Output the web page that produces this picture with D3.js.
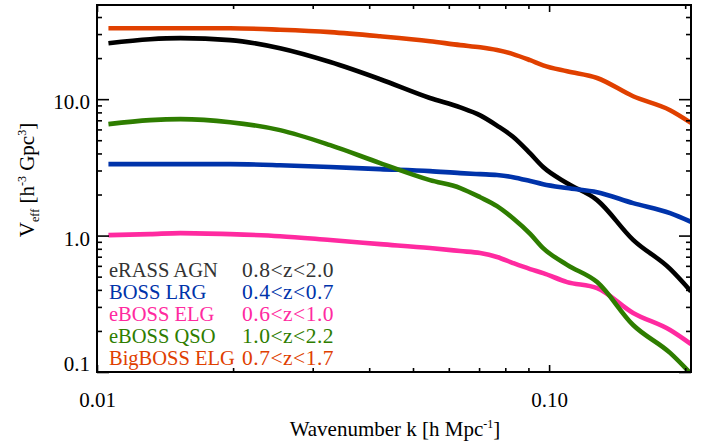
<!DOCTYPE html>
<html>
<head>
<meta charset="utf-8">
<script src="https://cdn.jsdelivr.net/npm/d3@7"></script>
<style>
  html, body { margin: 0; padding: 0; background: #fff; }
  svg { display: block; }
  text { font-family: "Liberation Serif", "DejaVu Serif", serif; fill: #000; }
</style>
</head>
<body>
<svg id="chart" width="710" height="448"></svg>
<script>
// ---- data ----
const kValues = [0.0106, 0.0131, 0.0153, 0.0197, 0.0254, 0.0328, 0.0423, 0.0545, 0.0636, 0.0704,
                 0.0767, 0.0832, 0.0908, 0.0970, 0.1096, 0.1277, 0.1534, 0.1852, 0.2060];

const seriesNames = ["eRASS AGN", "BOSS LRG", "eBOSS ELG", "eBOSS QSO", "BigBOSS ELG"];
const redshiftRanges = ["0.8<z<2.0", "0.4<z<0.7", "0.6<z<1.0", "1.0<z<2.2", "0.7<z<1.7"];
const seriesColors = ["#000000", "#0033aa", "#ff2aa0", "#2e7d00", "#e04000"];

const erassAgn   = [25.7, 27.5, 28.0, 27.1, 23.6, 18.7, 14.0, 10.2, 8.7, 7.6, 6.4, 5.3, 4.0, 3.18, 2.42, 1.82, 0.93, 0.57, 0.39];
const bossLrg    = [3.34, 3.34, 3.34, 3.34, 3.28, 3.18, 3.07, 2.97, 2.87, 2.82, 2.78, 2.68, 2.51, 2.38, 2.23, 2.08, 1.73, 1.46, 1.26];
const ebossElg   = [1.008, 1.025, 1.043, 1.025, 0.99, 0.927, 0.866, 0.81, 0.77, 0.744, 0.696, 0.629, 0.568, 0.531, 0.456, 0.412, 0.271, 0.203, 0.16];
const ebossQso   = [6.56, 7.02, 7.14, 6.78, 5.93, 4.60, 3.40, 2.55, 2.23, 1.91, 1.645, 1.34, 1.03, 0.81, 0.61, 0.456, 0.221, 0.138, 0.097];
const bigbossElg = [33.1, 33.1, 33.1, 33.1, 32.3, 31.0, 28.9, 26.6, 24.9, 24.0, 22.9, 21.4, 19.3, 17.7, 16.0, 14.3, 10.5, 8.3, 6.7];

const seriesValues = [erassAgn, bossLrg, ebossElg, ebossQso, bigbossElg];

const xMajorTicks = [0.01, 0.1];
const xTickLabels = ["0.01", "0.10"];
const xMinorTicks = [0.02, 0.03, 0.04, 0.05, 0.06, 0.07, 0.08, 0.09, 0.2];
const yMajorTicks = [0.1, 1, 10];
const yTickLabels = ["0.1", "1.0", "10.0"];
const yMinorTicks = [0.2, 0.3, 0.4, 0.5, 0.6, 0.7, 0.8, 0.9, 2, 3, 4, 5, 6, 7, 8, 9, 20, 30, 40];

// ---- layout ----
const L = 97, R = 691, T = 5, B = 372;
const svg = d3.select("#chart");

const x = d3.scaleLog().domain([0.01, 0.206]).range([L, R]);
const y = d3.scaleLog().domain([0.1, 49]).range([B, T]);

svg.append("defs").append("clipPath").attr("id", "plotclip")
  .append("rect").attr("x", L).attr("y", T).attr("width", R - L).attr("height", B - T);

// lines
const line = d3.line()
  .x(d => x(d[0]))
  .y(d => y(d[1]))
  .curve(d3.curveMonotoneX);

const plot = svg.append("g").attr("clip-path", "url(#plotclip)");
seriesValues.forEach((vals, i) => {
  const pts = kValues.map((k, j) => [k, vals[j]]);
  plot.append("path")
    .datum(pts)
    .attr("d", line)
    .attr("fill", "none")
    .attr("stroke", seriesColors[i])
    .attr("stroke-width", 4.6)
    .attr("stroke-linejoin", "round");
});

// axes (ticks pointing inward)
function styleAxis(g) {
  g.select(".domain").remove();
  g.selectAll(".tick line").attr("stroke", "#000").attr("stroke-width", 1.6);
}
const fontSize = 21;

// bottom
svg.append("g").attr("transform", `translate(0,${B})`)
  .call(d3.axisBottom(x).tickValues(xMajorTicks).tickSize(-7).tickPadding(20)
        .tickFormat((d, i) => xTickLabels[i]))
  .call(styleAxis)
  .call(g => g.selectAll("text").attr("font-size", fontSize).attr("font-family", "Liberation Serif").attr("fill", "#000"));
svg.append("g").attr("transform", `translate(0,${B})`)
  .call(d3.axisBottom(x).tickValues(xMinorTicks).tickSize(-4).tickFormat(""))
  .call(styleAxis);
// top
svg.append("g").attr("transform", `translate(0,${T})`)
  .call(d3.axisTop(x).tickValues(xMajorTicks).tickSize(-7).tickFormat(""))
  .call(styleAxis);
svg.append("g").attr("transform", `translate(0,${T})`)
  .call(d3.axisTop(x).tickValues(xMinorTicks).tickSize(-4).tickFormat(""))
  .call(styleAxis);
// left
svg.append("g").attr("transform", `translate(${L},0)`)
  .call(d3.axisLeft(y).tickValues(yMajorTicks).tickSize(-12).tickPadding(7)
        .tickFormat((d, i) => yTickLabels[i]))
  .call(styleAxis)
  .call(g => g.selectAll("text").attr("font-size", fontSize).attr("font-family", "Liberation Serif").attr("fill", "#000")
        .attr("dy", (d) => d === 0.1 ? "-0.05em" : "0.45em"));
svg.append("g").attr("transform", `translate(${L},0)`)
  .call(d3.axisLeft(y).tickValues(yMinorTicks).tickSize(-5).tickFormat(""))
  .call(styleAxis);
// right
svg.append("g").attr("transform", `translate(${R},0)`)
  .call(d3.axisRight(y).tickValues(yMajorTicks).tickSize(-12).tickFormat(""))
  .call(styleAxis);
svg.append("g").attr("transform", `translate(${R},0)`)
  .call(d3.axisRight(y).tickValues(yMinorTicks).tickSize(-5).tickFormat(""))
  .call(styleAxis);

// frame
svg.append("rect").attr("x", L).attr("y", T).attr("width", R - L).attr("height", B - T)
  .attr("fill", "none").attr("stroke", "#000").attr("stroke-width", 2);

// axis titles
const xt = svg.append("text").attr("x", 395).attr("y", 436).attr("text-anchor", "middle")
  .attr("font-size", fontSize);
xt.append("tspan").text("Wavenumber k [h Mpc");
xt.append("tspan").attr("font-size", 12).attr("dy", -8).text("-1");
xt.append("tspan").attr("dy", 8).text("]");

const yt = svg.append("text").attr("transform", "translate(34,180) rotate(-90)")
  .attr("text-anchor", "middle").attr("font-size", fontSize);
yt.append("tspan").text("V");
yt.append("tspan").attr("font-size", 12).attr("dy", 5).text("eff");
yt.append("tspan").attr("dy", -5).text(" [h");
yt.append("tspan").attr("font-size", 12).attr("dy", -8).text("-3");
yt.append("tspan").attr("dy", 8).text(" Gpc");
yt.append("tspan").attr("font-size", 12).attr("dy", -8).text("3");
yt.append("tspan").attr("dy", 8).text("]");

// legend
const lg = svg.append("g");
seriesNames.forEach((name, i) => {
  lg.append("text").attr("x", 109).attr("y", 277 + 22 * i).attr("font-size", 20.5)
    .style("fill", i === 0 ? "#333" : seriesColors[i]).text(name);
  lg.append("text").attr("x", 242).attr("y", 277 + 22 * i).attr("font-size", 21.5)
    .attr("letter-spacing", 0.5)
    .style("fill", i === 0 ? "#333" : seriesColors[i]).text(redshiftRanges[i]);
});
</script>
</body>
</html>
